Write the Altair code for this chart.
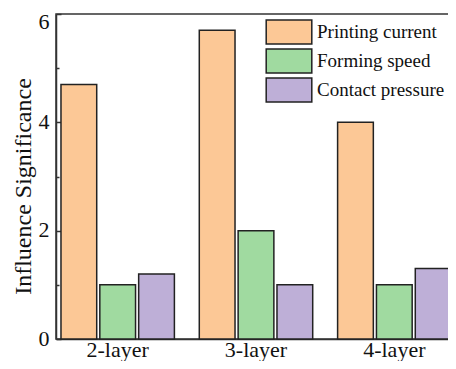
import altair as alt
import pandas as pd

layers = ["2-layer", "3-layer", "4-layer"]
factors = ["Printing current", "Forming speed", "Contact pressure"]
printing_current = [4.7, 5.7, 4.0]
forming_speed = [1.0, 2.0, 1.0]
contact_pressure = [1.2, 1.0, 1.3]
colors = ["#FCC896", "#A0DAA0", "#BEAFD7"]
y_ticks = [0, 2, 4, 6]
all_ticks = [0, 1, 2, 3, 4, 5, 6]

rows = []
for f, vals in zip(factors, [printing_current, forming_speed, contact_pressure]):
    for l, v in zip(layers, vals):
        rows.append({"layer": l, "factor": f, "value": v})
df = pd.DataFrame(rows)

FONT = "Liberation Serif"
W, H = 400, 325

yscale = alt.Scale(domain=[0, 6], nice=False, zero=True)

bars = alt.Chart(df).mark_bar(stroke="#222222", strokeWidth=1.5).encode(
    x=alt.X("layer:N", sort=layers,
            scale=alt.Scale(paddingInner=0.18, paddingOuter=0.036),
            axis=alt.Axis(title=None, labelAngle=0, ticks=False, tickSize=0,
                          labelPadding=17, labelBaseline="alphabetic",
                          labelFont=FONT, labelFontSize=22, labelColor="#111111",
                          domainColor="#333333", domainWidth=1.5)),
    xOffset=alt.XOffset("factor:N", sort=factors,
                        scale=alt.Scale(paddingInner=0.08, paddingOuter=0)),
    y=alt.Y("value:Q", scale=yscale,
            axis=alt.Axis(orient="left", title="Influence Significance", values=y_ticks,
                          ticks=False, grid=False, labelPadding=7, labelFont=FONT,
                          labelFontSize=22, labelColor="#111111",
                          labelBaseline={"condition": {"test": "datum.value === 6", "value": "top"}, "value": "middle"},
                          labelOffset={"condition": {"test": "datum.value === 6", "value": -3}, "value": -1},
                          titleFont=FONT, titleFontSize=24, titleFontWeight="normal",
                          titleColor="#111111", titleX=-26, titleY=172,
                          titleBaseline="alphabetic",
                          domainColor="#333333", domainWidth=1.5)),
    color=alt.Color("factor:N", sort=factors,
                    scale=alt.Scale(domain=factors, range=colors),
                    legend=alt.Legend(title=None, orient="none", legendX=220, legendY=5,
                                      symbolType="M-1.9,-1H1.9V1H-1.9Z", symbolSize=576,
                                      symbolStrokeColor="#222222", symbolStrokeWidth=1.5,
                                      symbolOpacity=1,
                                      labelFont=FONT, labelFontSize=19, labelColor="#111111",
                                      labelOffset=15, rowPadding=-1, padding=0)),
)

ticks_layer = alt.Chart(df).mark_point(opacity=0).encode(
    y=alt.Y("value:Q", scale=yscale,
            axis=alt.Axis(orient="right", offset=-W, values=all_ticks, labels=False,
                          domain=False, grid=False, title=None,
                          tickSize={"condition": {"test": "datum.value % 2 === 1", "value": 3}, "value": 5},
                          tickColor="#333333", tickWidth=1.5)),
)

chart = alt.layer(bars, ticks_layer).resolve_scale(y="shared").resolve_axis(
    y="independent"
).properties(
    width=W, height=H,
    autosize=alt.AutoSizeParams(type="none"),
    padding={"left": 48, "top": 6, "right": -8, "bottom": 22},
    background="white",
).configure_view(stroke="#333333", strokeWidth=1.5)

chart.save("out.html", embed_options={"renderer": "svg", "actions": False})
